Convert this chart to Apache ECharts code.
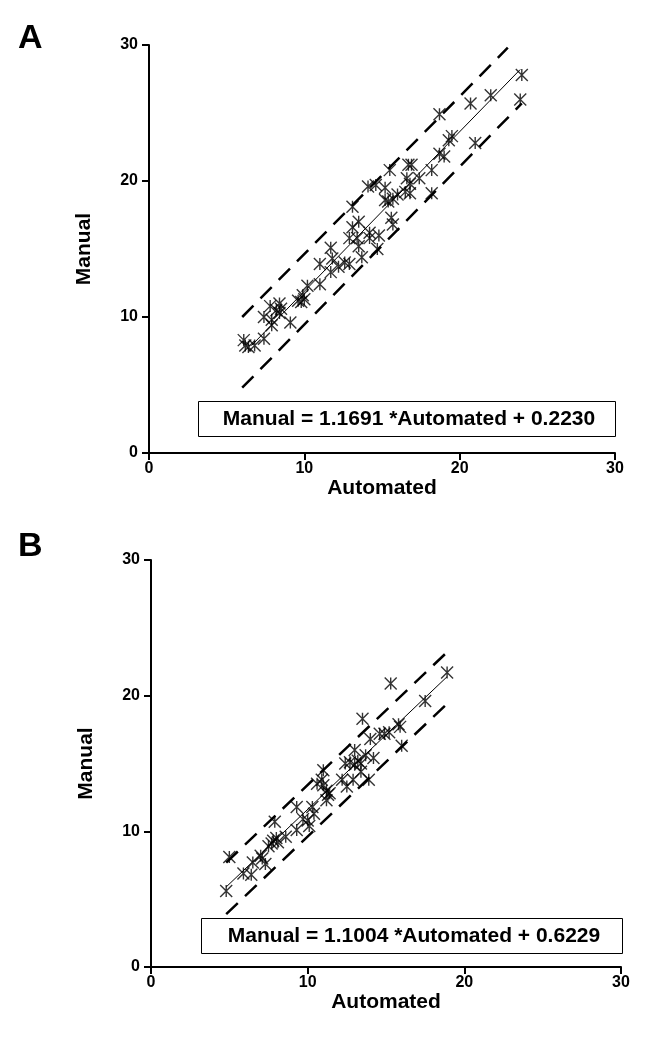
<!DOCTYPE html>
<html>
<head>
<meta charset="utf-8">
<script src="https://cdn.jsdelivr.net/npm/echarts@6/dist/echarts.min.js"></script>
<style>
html, body { margin: 0; padding: 0; background: #fff; }
#chart { width: 662px; height: 1050px; }
</style>
</head>
<body>
<div id="chart"></div>
<script>
// 刻度
var axisTicks = [0, 10, 20, 30];

// A 图：散点 (Automated, Manual)
var pointsA = [
    [24.0, 27.8], [23.9, 26.0], [22.0, 26.3], [20.7, 25.7], [21.0, 22.8],
    [18.7, 24.9], [19.5, 23.3], [19.3, 23.0], [18.7, 22.0], [19.0, 21.8],
    [18.2, 20.8], [18.2, 19.1], [17.4, 20.2], [16.7, 21.2], [16.9, 21.2],
    [16.6, 20.2], [16.8, 19.8], [16.5, 19.2], [16.8, 19.1], [16.0, 19.0],
    [15.7, 18.7], [15.5, 20.8], [15.2, 19.5], [15.2, 18.6], [15.4, 18.5],
    [14.6, 19.7], [14.1, 19.6], [15.6, 17.3], [15.7, 16.8], [14.8, 16.0],
    [14.7, 15.0], [13.7, 14.4], [14.2, 16.2], [14.2, 15.8], [13.1, 18.1],
    [13.5, 17.0], [13.1, 16.6], [12.9, 15.8], [13.4, 15.8], [13.5, 15.2],
    [11.7, 15.1], [11.8, 14.3], [11.0, 13.9], [11.7, 13.3], [12.2, 13.7],
    [12.6, 14.0], [12.9, 13.9], [11.0, 12.4], [10.2, 12.3], [9.9, 11.6],
    [9.6, 11.2], [10.0, 11.3], [9.8, 11.1], [8.4, 11.0], [8.5, 10.6],
    [7.8, 10.8], [8.4, 10.3], [7.4, 10.0], [7.9, 9.8], [7.9, 9.4],
    [9.1, 9.6], [7.4, 8.4], [6.1, 8.3], [6.2, 7.9], [6.8, 7.9],
    [6.4, 7.8], [8.2, 10.5]
];
var fitA = [[6.6, 7.9], [23.9, 28.2]];
var upperA = [[6.0, 10.0], [23.1, 29.8]];
var lowerA = [[6.0, 4.8], [24.0, 25.7]];
var equationA = 'Manual = 1.1691 *Automated + 0.2230';

// B 图
var pointsB = [
    [18.9, 21.7], [15.3, 20.9], [17.5, 19.6], [13.5, 18.3], [15.9, 17.7],
    [16.0, 16.3], [15.8, 17.9], [15.2, 17.3], [14.9, 17.2], [14.6, 17.2],
    [14.0, 16.8], [14.2, 15.4], [13.7, 15.6], [13.0, 16.0], [12.7, 15.1],
    [13.0, 14.9], [13.4, 15.0], [13.9, 13.8], [13.4, 14.4], [12.9, 13.8],
    [12.2, 13.8], [12.5, 13.3], [11.0, 14.5], [10.6, 13.5], [10.9, 13.8],
    [11.2, 13.0], [11.3, 12.7], [11.2, 12.3], [10.3, 11.8], [10.4, 11.3],
    [10.0, 10.8], [10.1, 10.4], [9.3, 11.8], [9.3, 10.1], [7.9, 10.7],
    [8.6, 9.6], [8.0, 9.5], [7.7, 9.1], [8.1, 9.2], [7.5, 8.9],
    [7.0, 8.2], [7.3, 7.6], [6.5, 7.7], [5.9, 6.9], [6.4, 6.8],
    [5.0, 8.1], [4.8, 5.6], [7.1, 8.0], [11.0, 13.4], [11.4, 12.8],
    [9.7, 10.9], [12.4, 15.0], [13.2, 15.2], [7.8, 9.3]
];
var fitB = [[4.8, 5.9], [18.9, 21.4]];
var upperB = [[4.8, 7.7], [18.8, 23.1]];
var lowerB = [[4.8, 3.9], [18.8, 19.3]];
var equationB = 'Manual = 1.1004 *Automated + 0.6229';

var starSymbol = 'path://M0,0L10,10M10,0L0,10M5,0L5,10';
var font = 'Liberation Sans, Arial, sans-serif';

function xAxisOf(idx) {
    return {
        type: 'value', gridIndex: idx, min: 0, max: 30, interval: 10,
        name: 'Automated', nameLocation: 'middle', nameGap: 25,
        nameTextStyle: { fontFamily: font, fontWeight: 'bold', fontSize: 21, color: '#000' },
        axisLine: { lineStyle: { color: '#000', width: 2 } },
        axisTick: { show: true, length: 7, lineStyle: { color: '#000', width: 2 } },
        axisLabel: { fontFamily: font, fontWeight: 'bold', fontSize: 16, color: '#000', margin: 8 },
        splitLine: { show: false }
    };
}
function yAxisOf(idx) {
    return {
        type: 'value', gridIndex: idx, min: 0, max: 30, interval: 10,
        name: 'Manual', nameLocation: 'middle', nameGap: 54,
        nameTextStyle: { fontFamily: font, fontWeight: 'bold', fontSize: 21, color: '#000' },
        axisLine: { show: true, lineStyle: { color: '#000', width: 2 } },
        axisTick: { show: true, length: 7, lineStyle: { color: '#000', width: 2 } },
        axisLabel: { fontFamily: font, fontWeight: 'bold', fontSize: 16, color: '#000', margin: 11 },
        splitLine: { show: false }
    };
}
function seriesOf(idx, pts, fit, up, low) {
    var dash = { color: '#000', width: 2.5, type: [16, 10] };
    return [{
        type: 'scatter', xAxisIndex: idx, yAxisIndex: idx, data: pts,
        symbol: starSymbol, symbolSize: 12,
        itemStyle: { color: 'none', borderColor: '#000', borderWidth: 1.4 }
    }, {
        type: 'line', xAxisIndex: idx, yAxisIndex: idx, data: fit, showSymbol: false,
        lineStyle: { color: '#000', width: 1 }
    }, {
        type: 'line', xAxisIndex: idx, yAxisIndex: idx, data: up, showSymbol: false,
        lineStyle: dash
    }, {
        type: 'line', xAxisIndex: idx, yAxisIndex: idx, data: low, showSymbol: false,
        lineStyle: dash
    }];
}
function eqBox(x, y, w, h, text) {
    return {
        type: 'group', left: x, top: y,
        children: [{
            type: 'rect', shape: { x: 0, y: 0, width: w, height: h },
            style: { fill: '#fff', stroke: '#000', lineWidth: 1 }
        }, {
            type: 'text', x: w / 2 + 2, y: h / 2,
            style: { text: text, fill: '#000', font: 'bold 21px ' + font, align: 'center', verticalAlign: 'middle' }
        }]
    };
}

var myChart = echarts.init(document.getElementById('chart'));
var option = {
    animation: false,
    backgroundColor: '#fff',
    grid: [
        { left: 149, top: 45, width: 466, height: 408 },
        { left: 151, top: 560, width: 470, height: 407 }
    ],
    xAxis: [xAxisOf(0), xAxisOf(1)],
    yAxis: [yAxisOf(0), yAxisOf(1)],
    series: seriesOf(0, pointsA, fitA, upperA, lowerA).concat(seriesOf(1, pointsB, fitB, upperB, lowerB)),
    graphic: [
        { type: 'text', left: 18, top: 22, style: { text: 'A', fill: '#000', font: 'bold 34px ' + font } },
        { type: 'text', left: 18, top: 530, style: { text: 'B', fill: '#000', font: 'bold 34px ' + font } },
        eqBox(198, 401, 417, 35, equationA),
        eqBox(201, 918, 421, 35, equationB)
    ]
};
myChart.setOption(option);
</script>
</body>
</html>
